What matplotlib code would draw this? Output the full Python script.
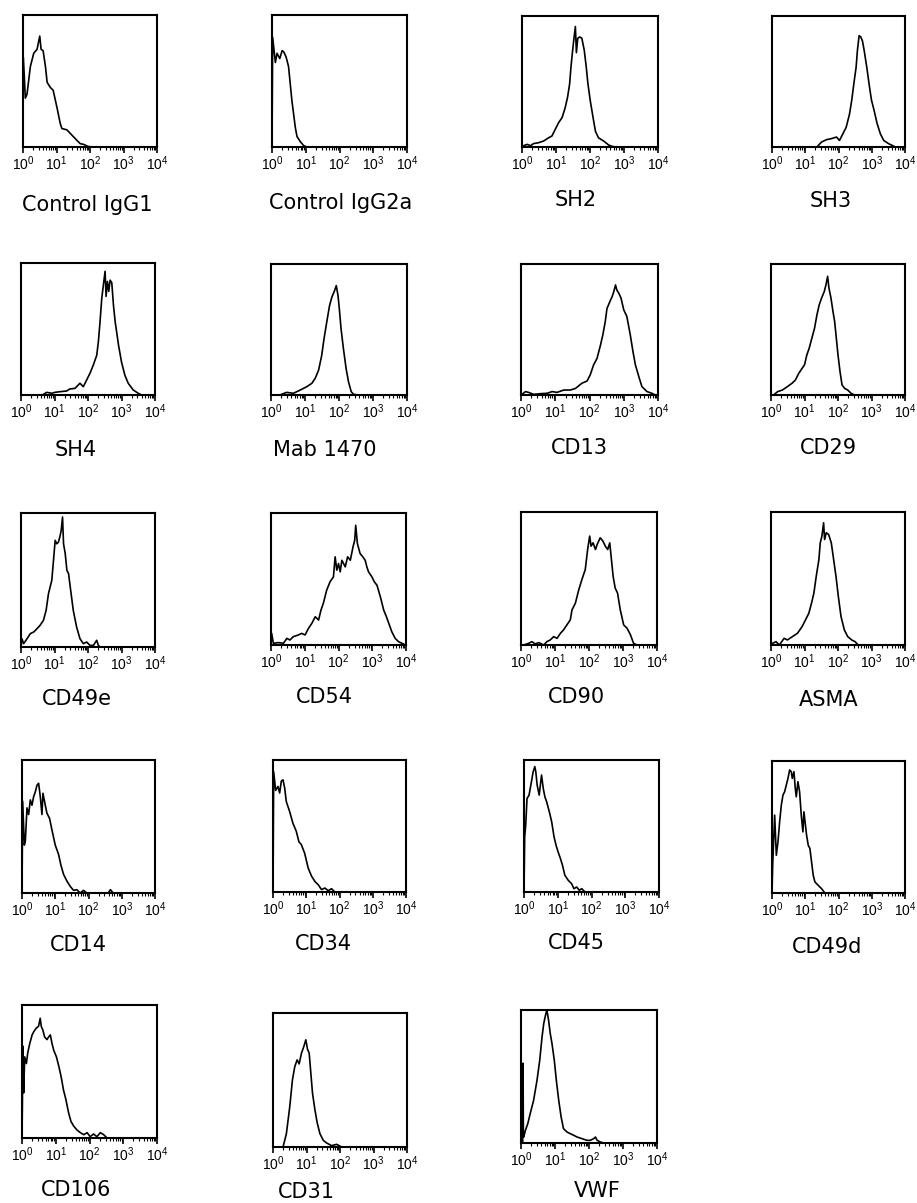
import matplotlib
matplotlib.use('Agg')
import matplotlib.pyplot as plt
from matplotlib.ticker import LogLocator, FuncFormatter, NullFormatter
import numpy as np

plt.rcParams['font.family'] = ['Liberation Sans', 'DejaVu Sans']
plt.rcParams['mathtext.fontset'] = 'custom'
plt.rcParams['mathtext.rm'] = 'Liberation Sans'
plt.rcParams['mathtext.it'] = 'Liberation Sans:italic'
plt.rcParams['mathtext.bf'] = 'Liberation Sans:bold'

# Histogram outlines.
# x: log10 of fluorescence intensity (decades), y: cell count as % of frame height

igg1_x = [0.0, 0.01, 0.07, 0.12, 0.22, 0.32, 0.42, 0.50, 0.54, 0.60, 0.67, 0.72, 0.82, 0.90, 0.97,
          1.03, 1.11, 1.16, 1.31, 1.46, 1.61, 1.71, 1.81, 1.93, 2.06]
igg1_y = [0, 68, 37, 40, 61, 71, 74, 84, 74, 73, 61, 49, 45, 43, 35,
          28, 18, 14, 13, 9, 5, 2.5, 2, 0.5, 0]

igg2a_x = [0.0, 0.02, 0.10, 0.15, 0.23, 0.30, 0.35, 0.42, 0.49, 0.54, 0.59, 0.64, 0.69, 0.74, 0.84, 0.94, 1.04]
igg2a_y = [0, 83, 64, 71, 67, 73, 72, 68, 61, 48, 35, 25, 15, 8, 4, 1, 0]

sh2_x = [0.05, 0.15, 0.25, 0.34, 0.49, 0.64, 0.78, 0.88, 0.98, 1.08, 1.18, 1.27, 1.34, 1.40, 1.44, 1.49,
         1.52, 1.57, 1.60, 1.64, 1.70, 1.76, 1.83, 1.89, 1.94, 2.01, 2.09, 2.16, 2.25, 2.40, 2.55, 2.65, 2.75]
sh2_y = [1, 2, 1, 2.6, 3.3, 4.6, 7, 8.4, 13.6, 18.7, 22.5, 30, 38, 48, 61, 74,
         81, 92, 72, 83, 84, 83, 74, 61, 48, 35, 22.5, 12, 7, 4.6, 1.5, 0.5, 0]

sh3_x = [1.35, 1.49, 1.64, 1.79, 1.94, 2.03, 2.13, 2.23, 2.33, 2.40, 2.46, 2.53, 2.57, 2.62, 2.67, 2.72,
         2.77, 2.85, 2.92, 2.99, 3.07, 3.16, 3.26, 3.36, 3.51, 3.61, 3.71]
sh3_y = [0, 3.8, 5.6, 6.4, 7.6, 5, 10, 15, 25, 36, 48, 61, 74, 85, 84, 81,
         74, 61, 48, 36, 28, 18, 10, 5, 2.5, 1.3, 0]

sh4_x = [0.67, 0.77, 0.92, 1.01, 1.16, 1.36, 1.46, 1.61, 1.76, 1.86, 1.96, 2.06, 2.16, 2.26, 2.31, 2.36,
         2.41, 2.46, 2.51, 2.54, 2.58, 2.62, 2.66, 2.71, 2.76, 2.81, 2.91, 3.00, 3.10, 3.20, 3.35, 3.50, 3.60]
sh4_y = [0.5, 2, 1.3, 2, 2.5, 3, 4.6, 5, 8.9, 6.3, 11.4, 16.5, 22.8, 30, 40.5, 55.7,
         73, 83.5, 93.7, 74.7, 86, 78.5, 87, 85, 68, 55.7, 38, 25, 15, 8.9, 3.8, 1.3, 0]

mab1470_x = [0.31, 0.46, 0.66, 0.86, 1.05, 1.20, 1.30, 1.40, 1.49, 1.56, 1.64, 1.72, 1.79, 1.87, 1.92,
             1.97, 2.01, 2.06, 2.13, 2.21, 2.28, 2.36, 2.43, 2.57]
mab1470_y = [0.5, 2, 1.3, 3.8, 6.3, 8.9, 12.7, 19, 30, 43, 55.7, 68, 74.7, 79.7, 83.5,
             76, 65.8, 50.6, 35.4, 20, 10, 2.5, 0.5, 0]

cd13_x = [0.03, 0.13, 0.22, 0.37, 0.56, 0.76, 0.91, 1.05, 1.25, 1.44, 1.59, 1.78, 1.93, 2.02, 2.12, 2.22,
          2.32, 2.39, 2.46, 2.51, 2.59, 2.66, 2.71, 2.76, 2.80, 2.85, 2.92, 3.00, 3.09, 3.19, 3.27, 3.34,
          3.44, 3.53, 3.68, 3.82, 3.92]
cd13_y = [0.5, 2.6, 2, 0.5, 1, 1.3, 2.6, 2, 3.8, 3.8, 5, 9, 10.7, 15.3, 23, 28,
          38, 46, 56, 66, 71, 75, 79, 84, 80, 78, 74, 65, 60, 46, 33, 23,
          14, 6.4, 2.6, 1.3, 0]

cd29_x = [0.10, 0.20, 0.34, 0.49, 0.63, 0.73, 0.83, 0.93, 1.00, 1.07, 1.14, 1.22, 1.30, 1.37, 1.44, 1.51,
          1.59, 1.64, 1.69, 1.73, 1.79, 1.85, 1.90, 1.95, 2.00, 2.06, 2.12, 2.20, 2.29, 2.39, 2.49]
cd29_y = [0.5, 2.6, 3.8, 6.4, 9, 11.5, 16.6, 20.4, 23, 30.6, 35.7, 43.4, 51, 61, 68.9, 74,
          79, 84, 90.6, 81.6, 74, 63.8, 56, 43.4, 30.6, 17.9, 7.7, 5, 3.8, 1.3, 0]

cd49e_x = [0.0, 0.03, 0.08, 0.18, 0.28, 0.38, 0.48, 0.57, 0.67, 0.75, 0.82, 0.87, 0.92, 0.97, 1.02, 1.07,
           1.12, 1.17, 1.20, 1.24, 1.27, 1.32, 1.37, 1.42, 1.47, 1.56, 1.66, 1.76, 1.86, 1.96, 2.06,
           2.16, 2.26, 2.31, 2.36]
cd49e_y = [0, 6, 2.5, 6.2, 10, 11.2, 13.7, 16.2, 19.9, 27.4, 39.8, 44.8, 49.8, 64.7, 79.6, 77,
           78.4, 83.3, 87, 97, 77, 69.7, 57.2, 54.7, 44.8, 27.4, 14.9, 6.2, 2.5, 3.7, 1.2,
           1.2, 5, 1.2, 0]

cd54_x = [0.0, 0.02, 0.07, 0.22, 0.37, 0.47, 0.56, 0.66, 0.81, 0.91, 1.01, 1.11, 1.21, 1.31, 1.41, 1.48,
          1.55, 1.65, 1.75, 1.85, 1.90, 1.95, 2.00, 2.05, 2.10, 2.20, 2.27, 2.35, 2.43, 2.48, 2.51,
          2.56, 2.64, 2.72, 2.79, 2.84, 2.89, 2.99, 3.06, 3.14, 3.24, 3.34, 3.42, 3.49, 3.58, 3.68,
          3.78, 3.88, 3.98]
cd54_y = [0, 8.8, 1.3, 1.8, 1.3, 5, 3.8, 6.3, 7.6, 8.8, 7.6, 12.6, 16.4, 21.4, 18.9, 26.4,
          31.5, 41.6, 47.9, 51.6, 66.8, 56.7, 61.7, 55.4, 64.2, 59.2, 66.8, 64.2, 74.3, 79.3, 90.7,
          76.8, 69.3, 66.8, 64.2, 59.2, 55.4, 51.6, 47.9, 45.3, 36.5, 26.4, 21.4, 16.4, 10, 5,
          2.5, 1.3, 0]

cd90_x = [0.08, 0.23, 0.32, 0.42, 0.52, 0.67, 0.76, 0.86, 0.96, 1.06, 1.16, 1.25, 1.35, 1.45, 1.50, 1.60,
          1.70, 1.79, 1.89, 1.96, 2.02, 2.06, 2.12, 2.19, 2.24, 2.33, 2.41, 2.48, 2.55, 2.61, 2.65,
          2.71, 2.77, 2.84, 2.92, 3.02, 3.12, 3.22, 3.31, 3.41]
cd90_y = [0, 1.3, 2.5, 0.8, 1.8, 0, 2.5, 3.8, 6.3, 5, 8.8, 11.3, 15.1, 18.9, 26.4, 31.5,
          41.6, 49.1, 56.7, 71.8, 81.9, 74.3, 76.8, 71.8, 75.6, 80.6, 78.1, 74.3, 71.8, 76.8, 66.8,
          51.6, 42.8, 39, 26.4, 15.1, 12.6, 7.6, 1.3, 0]

asma_x = [0.05, 0.15, 0.25, 0.39, 0.49, 0.64, 0.79, 0.93, 1.03, 1.13, 1.21, 1.28, 1.35, 1.43, 1.47, 1.52,
          1.57, 1.60, 1.65, 1.72, 1.80, 1.87, 1.94, 2.01, 2.09, 2.19, 2.29, 2.41, 2.51, 2.60]
asma_y = [1.3, 2.5, 0, 5, 3.8, 6.3, 8.8, 13.9, 18.9, 23.9, 31.5, 39, 51.6, 64.2, 76.8, 81.9,
          91.9, 79.3, 84.4, 83.1, 76.8, 64.2, 51.6, 36.5, 21.4, 11.3, 6.3, 3.8, 2.5, 0]

cd14_x = [0.0, 0.02, 0.07, 0.10, 0.15, 0.20, 0.25, 0.30, 0.35, 0.40, 0.45, 0.50, 0.55, 0.60, 0.63, 0.70,
          0.75, 0.83, 0.90, 1.00, 1.10, 1.17, 1.25, 1.35, 1.45, 1.55, 1.65, 1.75, 1.85, 1.95, 2.59,
          2.66, 2.74]
cd14_y = [0, 69, 36, 39, 64, 59, 70, 66, 72.5, 76, 81, 82.5, 72.5, 59, 75, 66,
          60, 56, 47.5, 36, 29, 21, 14, 9, 5, 2, 2.5, 0, 2, 0, 0,
          2.5, 0]

cd34_x = [0.0, 0.02, 0.08, 0.15, 0.20, 0.25, 0.30, 0.35, 0.40, 0.50, 0.60, 0.70, 0.78, 0.85, 0.95, 1.06,
          1.16, 1.26, 1.36, 1.46, 1.56, 1.66, 1.76, 1.86]
cd34_y = [0, 91, 77, 80, 75, 84, 85, 79, 68.5, 61, 52, 46, 38, 36, 29.5, 18,
          12, 8, 5.5, 1.8, 3, 1, 2.5, 0]

cd45_x = [0.0, 0.02, 0.05, 0.09, 0.15, 0.22, 0.27, 0.32, 0.35, 0.39, 0.45, 0.52, 0.57, 0.62, 0.67, 0.75,
          0.82, 0.89, 0.95, 1.01, 1.08, 1.14, 1.21, 1.31, 1.41, 1.48, 1.56, 1.64, 1.71, 1.81]
cd45_y = [0, 41.8, 50.6, 70.9, 73.4, 83.5, 91, 95, 91, 81, 73.4, 88.6, 78.5, 72, 68.4, 60.8,
          53.2, 41.8, 35.4, 30.4, 25.3, 20.3, 12.7, 8.9, 6.3, 2.5, 3.8, 1.3, 2.5, 0]

cd49d_x = [0.0, 0.02, 0.08, 0.13, 0.18, 0.23, 0.28, 0.33, 0.38, 0.43, 0.48, 0.53, 0.58, 0.61, 0.66, 0.70,
           0.73, 0.78, 0.83, 0.88, 0.93, 0.96, 1.04, 1.09, 1.14, 1.19, 1.24, 1.29, 1.39, 1.49, 1.59]
cd49d_y = [0, 21, 59, 28.6, 38.7, 54, 66.6, 74.2, 76.7, 81.8, 86.8, 93.2, 91.9, 86.8, 91.9, 79.2,
           72.9, 84.3, 76.7, 59, 46.3, 61.5, 43.8, 36.2, 33.7, 23.5, 13.4, 8.4, 5.8, 3.3, 0]

cd106_x = [0.0, 0.03, 0.05, 0.08, 0.13, 0.17, 0.23, 0.30, 0.35, 0.42, 0.49, 0.54, 0.57, 0.62, 0.67, 0.74,
           0.79, 0.84, 0.89, 0.94, 1.02, 1.09, 1.16, 1.23, 1.30, 1.38, 1.45, 1.53, 1.63, 1.73, 1.83,
           1.93, 2.02, 2.12, 2.22, 2.32, 2.42, 2.52]
cd106_y = [0, 69, 34, 61, 56, 64, 71, 77.5, 80, 82.5, 84, 90, 84, 81, 76, 74,
           76, 77.5, 71, 66, 61, 54, 46, 36, 29, 19, 12.5, 9, 6, 4, 2.5,
           4, 1, 3, 1, 4, 2.5, 0]

cd31_x = [0.30, 0.40, 0.50, 0.58, 0.65, 0.72, 0.78, 0.85, 0.92, 0.98, 1.03, 1.08, 1.13, 1.18, 1.25, 1.32,
          1.40, 1.50, 1.60, 1.75, 1.90, 2.05]
cd31_y = [0, 10, 30, 50, 60, 65, 62, 70, 75, 80, 73, 70, 55, 40, 28, 18,
          10, 5, 3, 1, 2, 0]

vwf_x = [0.0, 0.05, 0.06, 0.07, 0.08, 0.13, 0.20, 0.27, 0.37, 0.47, 0.55, 0.62, 0.67, 0.72, 0.76, 0.81,
         0.86, 0.91, 0.98, 1.04, 1.11, 1.18, 1.25, 1.35, 1.45, 1.55, 1.65, 1.79, 1.94, 2.04, 2.14,
         2.19, 2.24, 2.33, 2.43]
vwf_y = [0, 0, 60, 5, 4.5, 9.5, 14.6, 22, 32, 47, 62, 80, 90, 96, 100, 92.5,
         82.4, 75, 62, 47, 32, 19.6, 10.8, 8.3, 7, 5.8, 4.5, 3.3, 2, 2, 3.3,
         4.5, 2, 0.8, 0]

markers = ['Control IgG1', 'Control IgG2a', 'SH2', 'SH3',
           'SH4', 'Mab 1470', 'CD13', 'CD29',
           'CD49e', 'CD54', 'CD90', 'ASMA',
           'CD14', 'CD34', 'CD45', 'CD49d',
           'CD106', 'CD31', 'VWF']
xs = [igg1_x, igg2a_x, sh2_x, sh3_x, sh4_x, mab1470_x, cd13_x, cd29_x, cd49e_x, cd54_x,
      cd90_x, asma_x, cd14_x, cd34_x, cd45_x, cd49d_x, cd106_x, cd31_x, vwf_x]
ys = [igg1_y, igg2a_y, sh2_y, sh3_y, sh4_y, mab1470_y, cd13_y, cd29_y, cd49e_y, cd54_y,
      cd90_y, asma_y, cd14_y, cd34_y, cd45_y, cd49d_y, cd106_y, cd31_y, vwf_y]

# frame boxes in pixels: left, right, top, bottom
boxes = [(23, 157, 15, 147), (272, 407, 15, 147), (522, 658, 16, 147), (772, 905, 16, 147),
         (21, 155, 263, 395), (271, 407, 264, 395), (521, 658, 264, 395), (771, 905, 264, 395),
         (21, 155, 513, 647), (271, 406, 513, 645), (521, 657, 512, 645), (771, 905, 512, 645),
         (22, 155, 760, 893), (273, 406, 760, 892), (524, 659, 760, 892), (772, 905, 761, 893),
         (22, 157, 1005, 1138), (273, 407, 1013, 1147), (521, 657, 1010, 1143)]
# label centres in pixels
label_pos = [(87, 205), (341, 203), (576, 200), (831, 201),
             (76, 450), (325, 450), (579, 448), (828, 448),
             (77, 699), (324, 697), (576, 697), (829, 700),
             (78, 945), (323, 944), (576, 943), (827, 947),
             (76, 1190), (306, 1192), (597, 1191)]

W, H = 917, 1203
fig = plt.figure(figsize=(W / 100, H / 100), dpi=100)

decade_fmt = FuncFormatter(lambda v, pos: '$10^{%d}$' % int(round(np.log10(v))))

for name, lx, cnt, (l, r, t, b), (cx, cy) in zip(markers, xs, ys, boxes, label_pos):
    ax = fig.add_axes([l / W, 1 - b / H, (r - l) / W, (b - t) / H])
    ax.plot(10 ** np.array(lx), cnt, color='black', lw=1.2)
    ax.set_xscale('log')
    ax.set_xlim(1, 1e4)
    ax.set_ylim(0, 100)
    ax.set_yticks([])
    ax.xaxis.set_major_locator(LogLocator(base=10, numticks=10))
    ax.xaxis.set_minor_locator(LogLocator(base=10, subs=np.arange(2, 10), numticks=10))
    ax.xaxis.set_major_formatter(decade_fmt)
    ax.xaxis.set_minor_formatter(NullFormatter())
    ax.tick_params(axis='x', which='major', direction='out', length=4, width=1.2, pad=1.5, labelsize=10)
    ax.tick_params(axis='x', which='minor', direction='out', length=2.5, width=0.8)
    for sp in ax.spines.values():
        sp.set_linewidth(1.5)
    fig.text(cx / W, 1 - cy / H, name, ha='center', va='center', fontsize=15, family='DejaVu Sans')

fig.savefig('out.png', dpi=100)
